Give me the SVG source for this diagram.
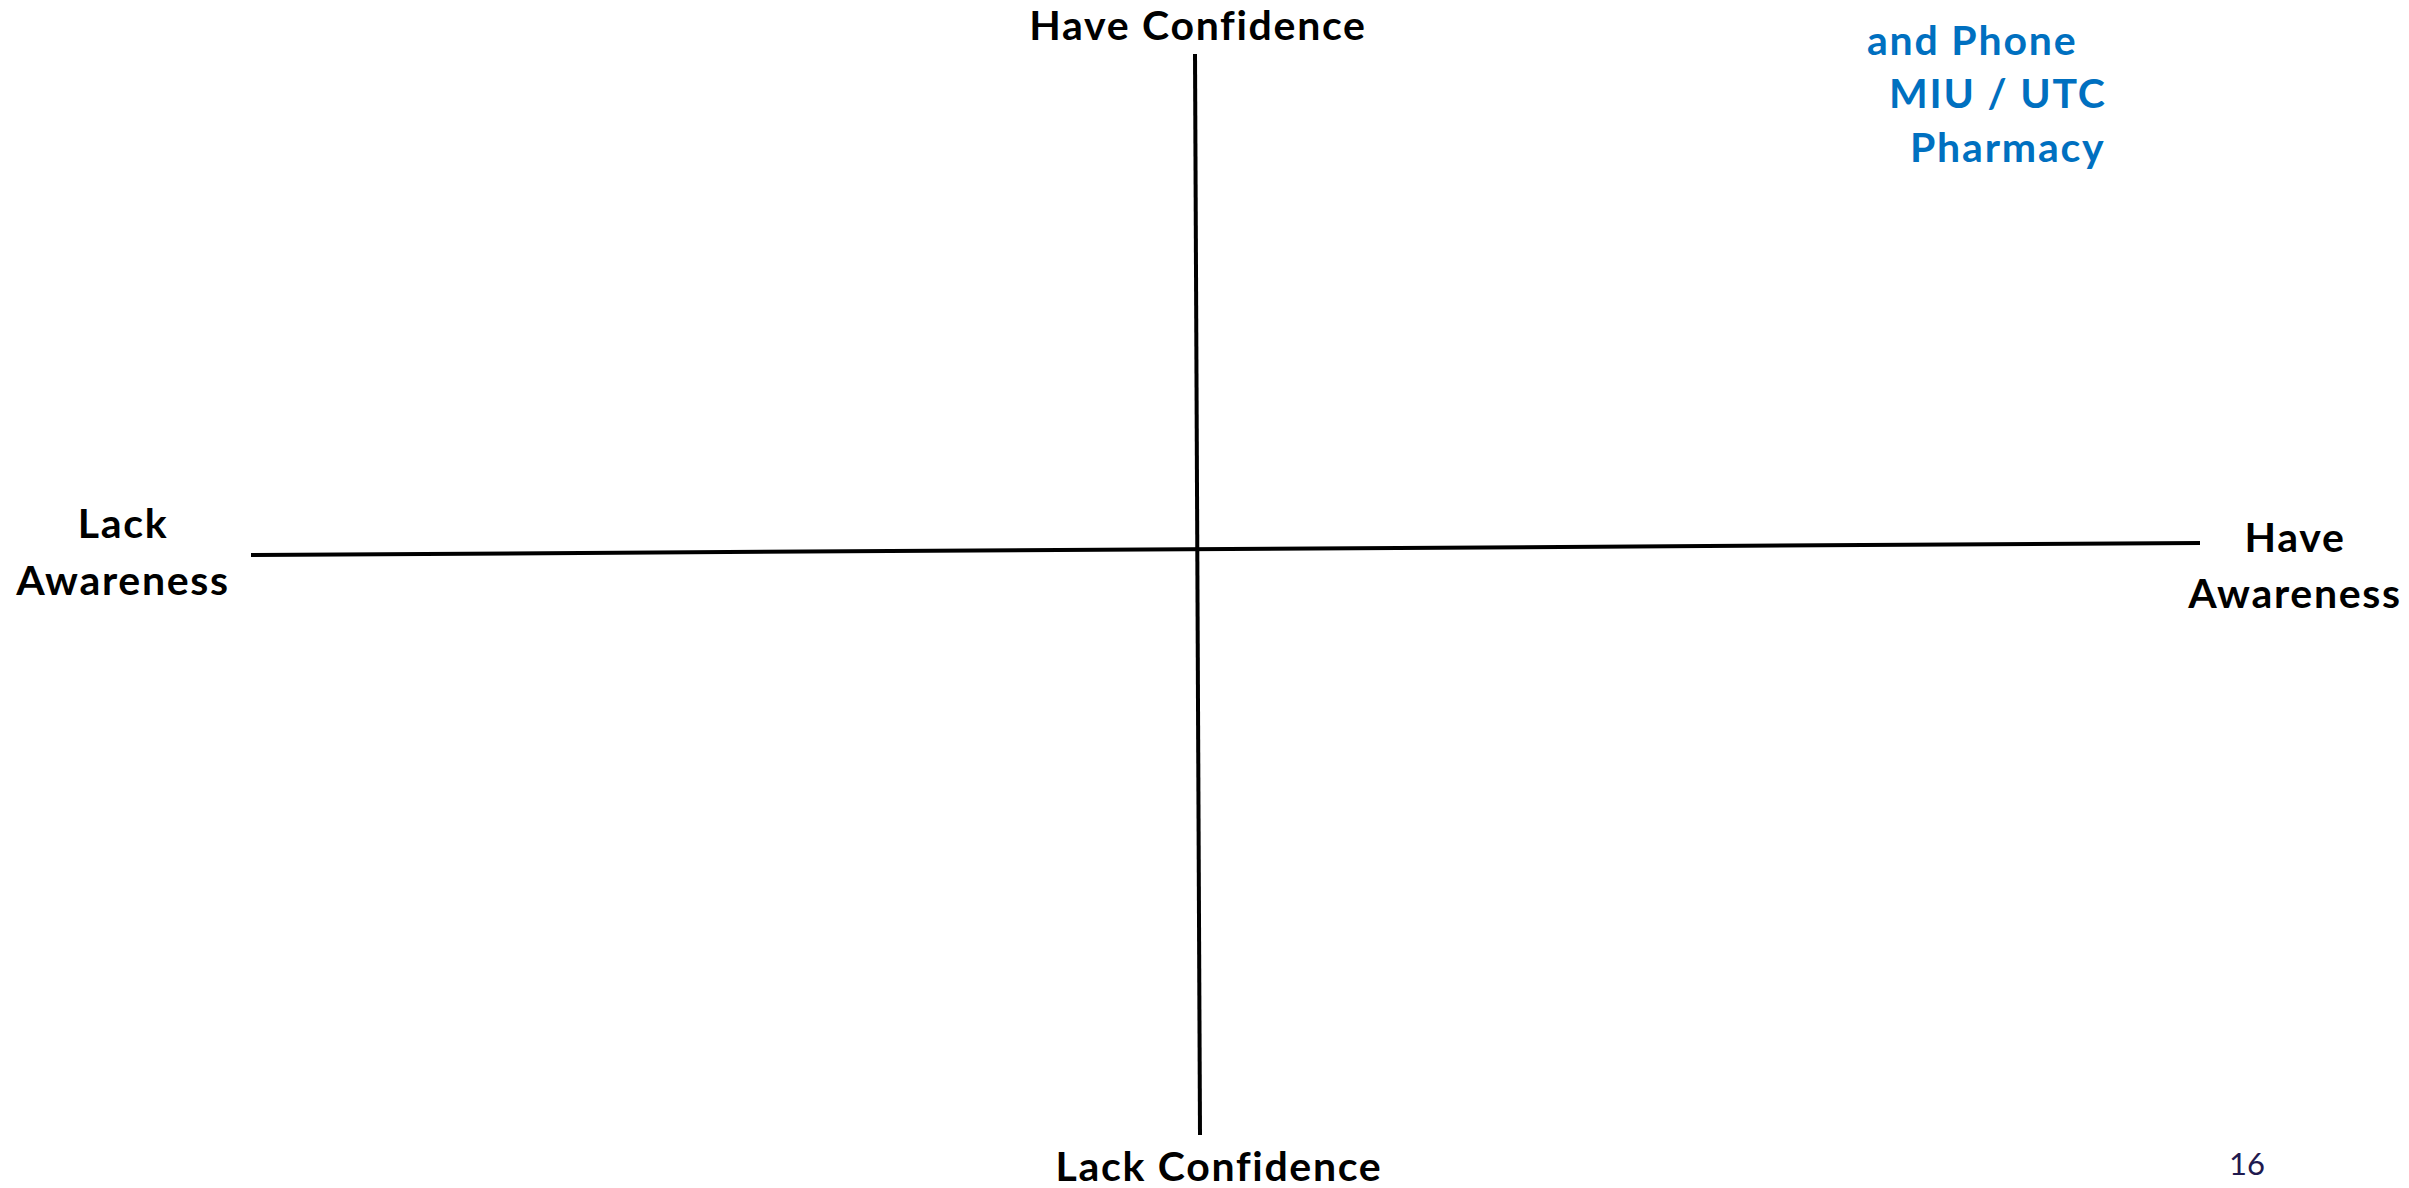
<svg xmlns="http://www.w3.org/2000/svg" width="2409" height="1188" viewBox="0 0 2409 1188">
<style>
.lbl{font-family:Lato,"Open Sans","Liberation Sans",sans-serif;font-weight:bold;font-size:41px;letter-spacing:1.7px;fill:#000;text-anchor:middle}
.blue{font-family:Lato,"Open Sans","Liberation Sans",sans-serif;font-weight:bold;font-size:41px;letter-spacing:1.8px;fill:#0070C0}
.axis{stroke:#000;stroke-width:4;fill:none}
.pg{font-family:Lato,"Open Sans","Liberation Sans",sans-serif;font-size:31px;fill:#1F1A4F}
</style>
<rect width="2409" height="1188" fill="#fff"/>
<g id="connectors">
<line class="axis" x1="1195" y1="54" x2="1200" y2="1135"/>
<line class="axis" x1="251" y1="555" x2="2200" y2="543"/>
</g>
<g id="top-label"><text class="lbl" x="1198" y="40">Have Confidence</text></g>
<g id="bottom-label"><text class="lbl" x="1219" y="1181">Lack Confidence</text></g>
<g id="left-label"><text class="lbl" x="123" y="538">Lack</text><text class="lbl" x="123" y="595">Awareness</text></g>
<g id="right-label"><text class="lbl" x="2295" y="552">Have</text><text class="lbl" x="2295" y="608">Awareness</text></g>
<g id="services">
<text class="blue" x="1867" y="55">and Phone</text>
<text class="blue" x="1889" y="108">MIU / UTC</text>
<text class="blue" x="1910" y="162">Pharmacy</text>
</g>
<g id="page-number"><text class="pg" x="2229" y="1175">16</text></g>
</svg>
